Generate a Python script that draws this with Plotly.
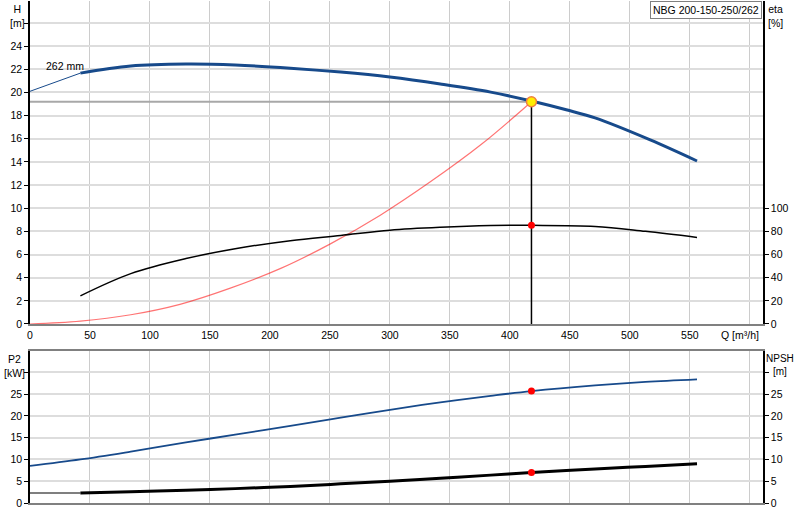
import plotly.graph_objects as go
from plotly.subplots import make_subplots

# Pump curve data
q_ext = [0, 42]
h_ext = [20.1, 21.67]
q = [42, 84, 130, 171, 217, 259, 300, 342, 384, 418, 447, 471, 517, 556]
head = [21.67, 22.28, 22.45, 22.37, 22.1, 21.76, 21.33, 20.73, 20.03, 19.26, 18.5, 17.8, 15.9, 14.08]

q_eta = [42, 84, 130, 171, 217, 259, 300, 342, 384, 418, 471, 513, 556]
eta = [24.3, 43.5, 56.5, 65, 72, 76.5, 81, 83.5, 85, 85.2, 84.3, 80, 74.8]

q_sys = [0, 42, 84, 125, 167, 209, 250, 292, 334, 376, 418]
h_sys = [0, 0.25, 0.8, 1.7, 3.1, 4.8, 6.9, 9.4, 12.3, 15.5, 19.2]

q_p2 = [0, 42, 84, 130, 171, 217, 259, 300, 342, 384, 418, 471, 513, 556]
p2 = [8.5, 10.0, 11.8, 13.9, 15.7, 17.7, 19.6, 21.4, 23.1, 24.6, 25.7, 27.0, 27.8, 28.4]

q_npsh_ext = [0, 42]
npsh_ext = [2.3, 2.3]
q_npsh = [42, 84, 130, 171, 217, 259, 300, 342, 384, 418, 471, 513, 556]
npsh = [2.3, 2.6, 2.9, 3.3, 3.8, 4.4, 5.0, 5.7, 6.4, 7.0, 7.8, 8.4, 9.0]

# duty point
q_op, h_op, eta_op, p2_op, npsh_op = 418, 19.2, 85.2, 25.7, 7.0

blue = "#174a8b"
font = dict(family="Liberation Sans, Arial", size=10.5, color="black")
small = dict(font, size=10)

fig = make_subplots(rows=2, cols=1, specs=[[{"secondary_y": True}], [{"secondary_y": True}]],
                    vertical_spacing=0.05)

# top panel
fig.add_trace(go.Scatter(x=[0, q_op], y=[h_op, h_op], mode="lines",
                         line=dict(color="#a8a8a8", width=2)), row=1, col=1)
fig.add_trace(go.Scatter(x=[q_op, q_op], y=[0, h_op], mode="lines",
                         line=dict(color="black", width=1.5)), row=1, col=1)
fig.add_trace(go.Scatter(x=q_sys, y=h_sys, mode="lines", line=dict(color="rgba(255,0,0,0.55)", width=1.2),
                         line_shape="spline"), row=1, col=1)
fig.add_trace(go.Scatter(x=q_ext, y=h_ext, mode="lines", line=dict(color=blue, width=1)), row=1, col=1)
fig.add_trace(go.Scatter(x=q, y=head, mode="lines", line=dict(color=blue, width=3), line_shape="spline"),
              row=1, col=1)
fig.add_trace(go.Scatter(x=q_eta, y=eta, mode="lines", line=dict(color="black", width=1.5),
                         line_shape="spline"), row=1, col=1, secondary_y=True)
fig.add_trace(go.Scatter(x=[q_op], y=[eta_op], mode="markers",
                         marker=dict(color="red", size=7)), row=1, col=1, secondary_y=True)
fig.add_trace(go.Scatter(x=[q_op], y=[h_op], mode="markers",
                         marker=dict(color="#ffee00", size=10, line=dict(color="#f08040", width=1.5))),
              row=1, col=1)

# bottom panel
fig.add_trace(go.Scatter(x=q_p2, y=p2, mode="lines", line=dict(color=blue, width=1.8), line_shape="spline"),
              row=2, col=1)
fig.add_trace(go.Scatter(x=q_npsh_ext, y=npsh_ext, mode="lines", line=dict(color="black", width=1.2)),
              row=2, col=1, secondary_y=True)
fig.add_trace(go.Scatter(x=q_npsh, y=npsh, mode="lines", line=dict(color="black", width=3),
                         line_shape="spline"), row=2, col=1, secondary_y=True)
fig.add_trace(go.Scatter(x=[q_op], y=[p2_op], mode="markers", marker=dict(color="red", size=7)), row=2, col=1)
fig.add_trace(go.Scatter(x=[q_op], y=[npsh_op], mode="markers", marker=dict(color="red", size=7)),
              row=2, col=1, secondary_y=True)

xt = list(range(0, 601, 50))
xtext = [str(v) for v in xt[:-1]] + [""]
fig.update_xaxes(range=[0, 611], tickvals=xt, showgrid=True, gridcolor="#cccccc", gridwidth=1,
                 zeroline=False, ticks="", tickfont=font, automargin=False)
fig.update_xaxes(ticktext=xtext, showline=True, linecolor="#808080", linewidth=2, row=1, col=1)
fig.update_xaxes(showticklabels=False, showline=True, mirror=True, linecolor="#808080", linewidth=2,
                 row=2, col=1)

ht = list(range(0, 27, 2))
fig.update_yaxes(automargin=False)
fig.update_yaxes(range=[0, 27.9], tickvals=ht, ticktext=[str(v) for v in ht[:-1]] + [""],
                 showgrid=True, gridcolor="#dddddd", gridwidth=2, zeroline=False, showline=True,
                 linecolor="black", linewidth=1.5, ticks="outside", ticklen=4, tickcolor="black",
                 tickfont=font, row=1, col=1, secondary_y=False)
fig.update_yaxes(range=[0, 279], tickvals=[0, 20, 40, 60, 80, 100], showgrid=False, zeroline=False,
                 showline=True, linecolor="black", linewidth=1.5, ticks="outside", ticklen=4,
                 tickcolor="black", tickfont=font, row=1, col=1, secondary_y=True)
pt = list(range(0, 31, 5))
fig.update_yaxes(range=[0, 34.9], tickvals=pt, ticktext=[str(v) for v in pt[:-1]] + [""],
                 showgrid=True, gridcolor="#dddddd", gridwidth=2, zeroline=False, showline=True,
                 linecolor="black", linewidth=1.5, ticks="outside", ticklen=4, tickcolor="black",
                 tickfont=font, row=2, col=1, secondary_y=False)
fig.update_yaxes(range=[0, 34.9], tickvals=pt, ticktext=[str(v) for v in pt[:-1]] + [""],
                 showgrid=False, zeroline=False, showline=True, linecolor="black", linewidth=1.5,
                 ticks="outside", ticklen=4, tickcolor="black", tickfont=font,
                 row=2, col=1, secondary_y=True)

fig.update_layout(
    width=800, height=520, showlegend=False, plot_bgcolor="white", paper_bgcolor="white",
    margin=dict(l=30, r=37, t=1, b=17, autoexpand=False), font=font,
    yaxis=dict(domain=[0.3566, 1.0]), yaxis2=dict(domain=[0.3566, 1.0]),
    xaxis=dict(domain=[0, 1]), xaxis2=dict(domain=[0, 1]),
    yaxis3=dict(domain=[0, 0.3028]), yaxis4=dict(domain=[0, 0.3028]),
)

ann = [
    dict(text="H<br>[m]", x=-0.0177, y=1.0, xanchor="center", yanchor="top", font=font),
    dict(text="eta<br>[%]", x=1.0164, y=1.0, xanchor="center", yanchor="top", font=font),
    dict(text="P2<br>[kW]", x=-0.0218, y=0.302, xanchor="center", yanchor="top", font=font),
    dict(text="NPSH<br>[m]", x=1.0232, y=0.302, xanchor="center", yanchor="top", font=small),
    dict(text="Q [m³/h]", x=0.9686, y=0.3506, xanchor="center", yanchor="top", font=font),
]
for a in ann:
    fig.add_annotation(xref="paper", yref="paper", showarrow=False, align="center", **a)
fig.add_annotation(text="262 mm", x=29, y=22.3, xref="x", yref="y", showarrow=False, font=font)
fig.add_annotation(text="NBG 200-150-250/262", xref="paper", yref="paper", x=0.9986, y=1.0,
                   xanchor="right", yanchor="top", showarrow=False, font=font,
                   bordercolor="#808080", borderwidth=1, borderpad=2, bgcolor="white")

# drop the default 8px page margin so the 800x520 figure fills the window, and hide the modebar
fig.write_html("out.html", config={"displayModeBar": False},
               post_script="document.body.style.margin = '0';")
